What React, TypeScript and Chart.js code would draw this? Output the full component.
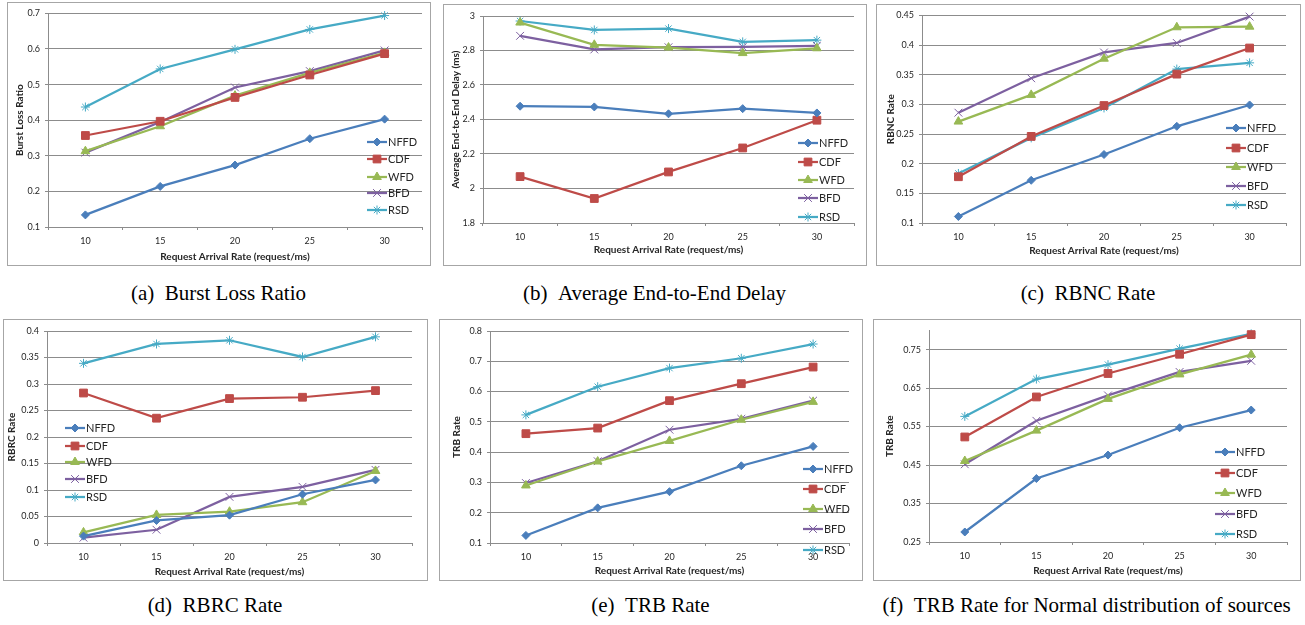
import React, { useEffect, useRef } from 'react';
import { Chart, registerables } from 'chart.js';
import { drawPoint } from 'chart.js/helpers';

Chart.register(...registerables);

// ---------------- DATA ----------------
const categories = ['10', '15', '20', '25', '30'];
const seriesNames = ['NFFD', 'CDF', 'WFD', 'BFD', 'RSD'];
const xAxisTitle = 'Request Arrival Rate (request/ms)';

// (a) Burst Loss Ratio
const burstNFFD = [0.134, 0.214, 0.274, 0.348, 0.403];
const burstCDF = [0.357, 0.397, 0.464, 0.527, 0.587];
const burstWFD = [0.313, 0.383, 0.469, 0.533, 0.589];
const burstBFD = [0.309, 0.395, 0.492, 0.538, 0.596];
const burstRSD = [0.437, 0.544, 0.599, 0.655, 0.694];
const burstTicks = [0.1, 0.2, 0.3, 0.4, 0.5, 0.6, 0.7];

// (b) Average End-to-End Delay
const delayNFFD = [2.477, 2.473, 2.433, 2.463, 2.438];
const delayCDF = [2.069, 1.942, 2.096, 2.235, 2.396];
const delayWFD = [2.962, 2.833, 2.817, 2.785, 2.813];
const delayBFD = [2.885, 2.806, 2.819, 2.821, 2.827];
const delayRSD = [2.971, 2.919, 2.927, 2.85, 2.86];
const delayTicks = [1.8, 2, 2.2, 2.4, 2.6, 2.8, 3];

// (c) RBNC Rate
const rbncNFFD = [0.111, 0.172, 0.2155, 0.263, 0.299];
const rbncCDF = [0.178, 0.246, 0.298, 0.351, 0.395];
const rbncWFD = [0.271, 0.316, 0.377, 0.43, 0.431];
const rbncBFD = [0.286, 0.344, 0.3875, 0.4035, 0.448];
const rbncRSD = [0.1835, 0.2435, 0.294, 0.3595, 0.37];
const rbncTicks = [0.1, 0.15, 0.2, 0.25, 0.3, 0.35, 0.4, 0.45];

// (d) RBRC Rate
const rbrcNFFD = [0.013, 0.0425, 0.0525, 0.092, 0.119];
const rbrcCDF = [0.283, 0.2355, 0.2725, 0.275, 0.2875];
const rbrcWFD = [0.02, 0.053, 0.059, 0.077, 0.136];
const rbrcBFD = [0.01, 0.025, 0.087, 0.106, 0.138];
const rbrcRSD = [0.339, 0.3755, 0.3825, 0.351, 0.389];
const rbrcTicks = [0, 0.05, 0.1, 0.15, 0.2, 0.25, 0.3, 0.35, 0.4];

// (e) TRB Rate
const trbNFFD = [0.125, 0.216, 0.2695, 0.355, 0.419];
const trbCDF = [0.461, 0.4795, 0.57, 0.626, 0.681];
const trbWFD = [0.29, 0.369, 0.437, 0.507, 0.566];
const trbBFD = [0.298, 0.37, 0.474, 0.51, 0.57];
const trbRSD = [0.523, 0.616, 0.6775, 0.71, 0.757];
const trbTicks = [0.1, 0.2, 0.3, 0.4, 0.5, 0.6, 0.7, 0.8];

// (f) TRB Rate for Normal distribution of sources
const trbNormNFFD = [0.276, 0.415, 0.476, 0.547, 0.593];
const trbNormCDF = [0.523, 0.627, 0.688, 0.738, 0.789];
const trbNormWFD = [0.4605, 0.5395, 0.622, 0.6856, 0.737];
const trbNormBFD = [0.452, 0.565, 0.631, 0.692, 0.721];
const trbNormRSD = [0.5765, 0.6735, 0.711, 0.7525, 0.791];
const trbNormTicks = [0.25, 0.35, 0.45, 0.55, 0.65, 0.75];
const trbNormMax = 0.8;

// ---------------- STYLE ----------------
const seriesColors = ['#4A7EBB', '#BE4B48', '#98B954', '#7D60A0', '#46AAC5'];
const seriesPoints = ['rectRot', 'rect', 'triangle', 'crossRot', 'star'];
const seriesRadius = [4, 5.5, 5, 5.5, 4.5];
const gridColor = '#8c8c8c';
const textColor = '#262626';
const FONT = 'Lato, "Liberation Sans", sans-serif';

type Panel = {
  series: number[][];
  ticks: number[];
  max?: number;
  yTitle: string;
  caption: string;
  box: [number, number, number, number]; // left, top, right, bottom (outer border)
  plot: [number, number, number, number]; // left, top, right, bottom
  yTitleX: number;
  xTitleY: number;
  legendX: number;
  legendYs: number[];
  captionY: number;
};

const panels: Panel[] = [
  {
    series: [burstNFFD, burstCDF, burstWFD, burstBFD, burstRSD],
    ticks: burstTicks,
    yTitle: 'Burst Loss Ratio',
    caption: '(a)\u2002Burst Loss Ratio',
    box: [7, 2, 430, 265],
    plot: [48, 13, 423, 228],
    yTitleX: 20,
    xTitleY: 258,
    legendX: 367,
    legendYs: [142, 159, 177, 193, 210],
    captionY: 293,
  },
  {
    series: [delayNFFD, delayCDF, delayWFD, delayBFD, delayRSD],
    ticks: delayTicks,
    yTitle: 'Average End-to-End Delay (ms)',
    caption: '(b)\u2002Average End-to-End Delay',
    box: [443, 4, 866, 265],
    plot: [483, 16, 855, 224],
    yTitleX: 456,
    xTitleY: 251,
    legendX: 798,
    legendYs: [143, 162, 180, 198, 217],
    captionY: 293,
  },
  {
    series: [rbncNFFD, rbncCDF, rbncWFD, rbncBFD, rbncRSD],
    ticks: rbncTicks,
    yTitle: 'RBNC Rate',
    caption: '(c)\u2002RBNC Rate',
    box: [876, 4, 1300, 265],
    plot: [922, 15, 1287, 224],
    yTitleX: 891,
    xTitleY: 252,
    legendX: 1226,
    legendYs: [128, 148, 167, 186, 205],
    captionY: 293,
  },
  {
    series: [rbrcNFFD, rbrcCDF, rbrcWFD, rbrcBFD, rbrcRSD],
    ticks: rbrcTicks,
    yTitle: 'RBRC Rate',
    caption: '(d)\u2002RBRC Rate',
    box: [3, 319, 427, 580],
    plot: [47, 331, 413, 544],
    yTitleX: 12,
    xTitleY: 573,
    legendX: 65,
    legendYs: [428, 446, 462, 479, 497],
    captionY: 605,
  },
  {
    series: [trbNFFD, trbCDF, trbWFD, trbBFD, trbRSD],
    ticks: trbTicks,
    yTitle: 'TRB Rate',
    caption: '(e)\u2002TRB Rate',
    box: [439, 319, 862, 580],
    plot: [490, 331, 850, 544],
    yTitleX: 457,
    xTitleY: 572,
    legendX: 803,
    legendYs: [469, 489, 509, 529, 550],
    captionY: 605,
  },
  {
    series: [trbNormNFFD, trbNormCDF, trbNormWFD, trbNormBFD, trbNormRSD],
    ticks: trbNormTicks,
    max: trbNormMax,
    yTitle: 'TRB Rate',
    caption: '(f)\u2002TRB Rate for Normal distribution of sources',
    box: [873, 319, 1300, 580],
    plot: [929, 330, 1288, 543],
    yTitleX: 890,
    xTitleY: 572,
    legendX: 1215,
    legendYs: [452, 473, 493, 514, 534],
    captionY: 605,
  },
];

const panelLegend = {
  id: 'panelLegend',
  afterDraw(chart: any, _args: any, opts: any) {
    const { x, ys } = opts;
    if (!ys) return;
    const ctx = chart.ctx as CanvasRenderingContext2D;
    chart.data.datasets.forEach((ds: any, i: number) => {
      const y = ys[i];
      ctx.save();
      ctx.strokeStyle = ds.borderColor;
      ctx.lineWidth = ds.borderWidth;
      ctx.beginPath();
      ctx.moveTo(x, y);
      ctx.lineTo(x + 20, y);
      ctx.stroke();
      ctx.fillStyle = ds.pointBackgroundColor;
      ctx.strokeStyle = ds.pointBorderColor;
      ctx.lineWidth = 1;
      drawPoint(ctx, { pointStyle: ds.pointStyle, radius: ds.pointRadius, rotation: 0, borderWidth: 1 } as any, x + 10, y);
      ctx.fillStyle = textColor;
      ctx.font = `11px ${FONT}`;
      ctx.textBaseline = 'middle';
      ctx.textAlign = 'left';
      ctx.fillText(ds.label, x + 21, y + 0.5);
      ctx.restore();
    });
  },
};

function fmt(v: number) {
  return String(parseFloat(v.toFixed(3)));
}

function ChartPanel({ p }: { p: Panel }) {
  const ref = useRef<HTMLCanvasElement>(null);
  const [bl, bt, br, bb] = p.box;
  const cw = br - bl - 1;
  const ch = bb - bt - 1;
  const cl = bl + 1;
  const ct = bt + 1;

  useEffect(() => {
    const canvas = ref.current;
    if (!canvas) return;
    const [pl, pt, pr, pb] = p.plot;
    const yAxisW = pl - cl;
    const xAxisH = ct + ch - pb;
    const titleLH = 12;
    const xTitlePad = Math.max(0, ct + ch - p.xTitleY - titleLH / 2);
    const yTitlePad = Math.max(0, p.yTitleX - cl - titleLH / 2);
    const minV = p.ticks[0];
    const maxV = p.max !== undefined ? p.max : p.ticks[p.ticks.length - 1];

    const chart = new Chart(canvas, {
      type: 'line',
      data: {
        labels: categories,
        datasets: p.series.map((data, i) => ({
          label: seriesNames[i],
          data,
          borderColor: seriesColors[i],
          backgroundColor: seriesColors[i],
          pointBackgroundColor: seriesColors[i],
          pointBorderColor: seriesColors[i],
          pointStyle: seriesPoints[i] as any,
          pointRadius: seriesRadius[i],
          pointBorderWidth: 1,
          borderWidth: 2.25,
          tension: 0,
          fill: false,
          clip: false as any,
        })),
      },
      options: {
        animation: false,
        responsive: false,
        devicePixelRatio: 1,
        events: [],
        layout: { padding: { top: pt - ct, right: cl + cw - pr, left: 0, bottom: 0 } },
        plugins: {
          legend: { display: false },
          tooltip: { enabled: false },
          panelLegend: { x: p.legendX - cl, ys: p.legendYs.map((y) => y - ct) },
        } as any,
        scales: {
          x: {
            type: 'category',
            offset: true,
            grid: { offset: true, drawOnChartArea: false, drawTicks: true, tickLength: 3, color: gridColor },
            border: { display: true, color: gridColor },
            ticks: { font: { family: FONT, size: 9 }, color: textColor, padding: 6, maxRotation: 0 },
            title: {
              display: true,
              text: xAxisTitle,
              font: { family: FONT, size: 10, weight: 'bold' },
              color: textColor,
              padding: { top: 0, bottom: xTitlePad },
            },
            afterFit: (s: any) => {
              s.height = xAxisH;
            },
          },
          y: {
            type: 'linear',
            min: minV,
            max: maxV,
            grid: { color: gridColor, tickLength: 3, drawTicks: true },
            border: { display: true, color: gridColor },
            ticks: {
              font: { family: FONT, size: 9 },
              color: textColor,
              padding: 5,
              callback: (v: any) => fmt(Number(v)),
            },
            afterBuildTicks: (s: any) => {
              s.ticks = p.ticks.map((v) => ({ value: v }));
            },
            title: {
              display: true,
              text: p.yTitle,
              font: { family: FONT, size: 10, weight: 'bold' },
              color: textColor,
              padding: { top: yTitlePad, bottom: 0 },
            },
            afterFit: (s: any) => {
              s.width = yAxisW;
            },
          },
        },
      },
      plugins: [panelLegend],
    });
    return () => chart.destroy();
  }, []);

  return (
    <>
      <div
        style={{
          position: 'absolute',
          left: bl,
          top: bt,
          width: br - bl - 1,
          height: bb - bt - 1,
          border: '1px solid #a6a6a6',
          boxSizing: 'content-box',
        }}
      >
        <canvas ref={ref} width={cw - 1} height={ch - 1} style={{ display: 'block', width: cw - 1, height: ch - 1 }} />
      </div>
      <div
        style={{
          position: 'absolute',
          left: bl - 40,
          width: br - bl + 80,
          top: p.captionY - 12,
          height: 24,
          lineHeight: '24px',
          textAlign: 'center',
          fontFamily: '"Liberation Serif", "DejaVu Serif", serif',
          fontSize: 21,
          color: '#000',
          whiteSpace: 'nowrap',
        }}
      >
        {p.caption}
      </div>
    </>
  );
}

export default function App() {
  return (
    <div style={{ position: 'absolute', left: 0, top: 0, width: 1305, height: 625, background: '#fff', overflow: 'hidden' }}>
      {panels.map((p, i) => (
        <ChartPanel key={i} p={p} />
      ))}
    </div>
  );
}
